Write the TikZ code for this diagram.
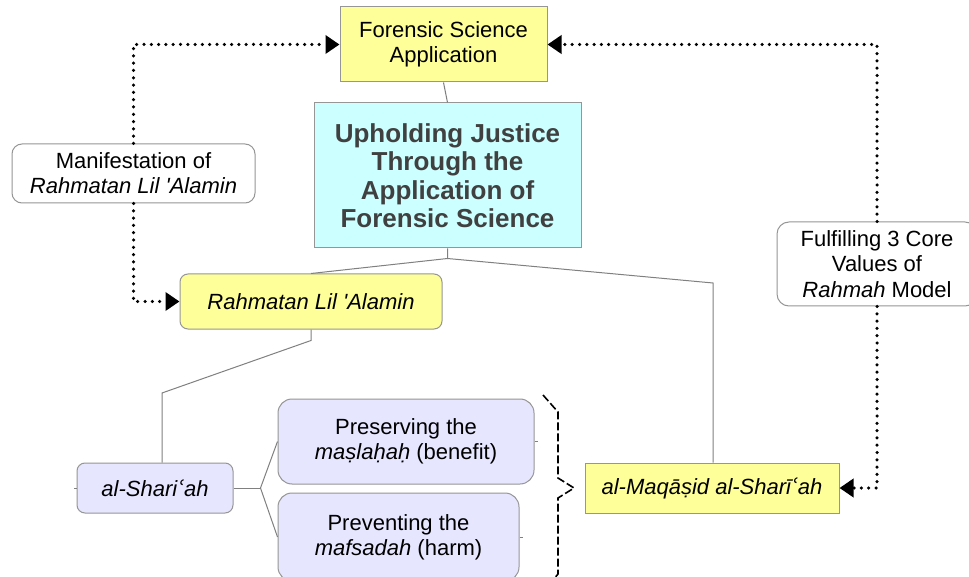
\documentclass[tikz,border=0pt]{standalone}
\usepackage{fontspec}
\setmainfont{Liberation Sans}
\newfontfamily\dejavu{DejaVu Sans}
\usetikzlibrary{arrows.meta,positioning}

\definecolor{boxyellow}{RGB}{255,255,153}
\definecolor{boxcyan}{RGB}{204,255,255}
\definecolor{boxlav}{RGB}{230,230,255}
\definecolor{linegray}{RGB}{128,128,128}
\definecolor{edgegray}{RGB}{150,150,150}
\definecolor{titlegray}{RGB}{64,64,64}
\newcommand{\ayn}{{\dejavu\itshape ʿ}}

\begin{document}
\begin{tikzpicture}[x=0.5pt,y=-0.5pt,
    box/.style={draw=edgegray,line width=0.5pt,align=center,inner sep=2pt,
      font=\fontsize{11}{12.6}\selectfont},
    yellowbox/.style={box,fill=boxyellow},
    titlebox/.style={box,fill=boxcyan,text=titlegray,
      font=\fontsize{13}{14.25}\selectfont\bfseries},
    notebox/.style={box,fill=white,rounded corners=5pt},
    lavbox/.style={box,fill=boxlav,rounded corners=4pt},
    link/.style={draw=linegray,line width=0.5pt},
    dotarrow/.style={line width=1.75pt,line cap=round,dash pattern=on 0pt off 3.65pt,
      -{Triangle[length=7pt,width=9pt]}},
    bracedash/.style={line width=0.8pt,dash pattern=on 4pt off 1.5pt},
  ]
  \path[use as bounding box,fill=white] (0,0) rectangle (969,577);

  % main boxes
  \node[yellowbox,minimum width=103.5pt,minimum height=37.5pt] (fsa) at (443.5,44.5)
    {Forensic Science\\Application};
  \node[titlebox,minimum width=133.5pt,minimum height=72.5pt] (title) at (447.5,175.5)
    {Upholding Justice\\Through the\\Application of\\Forensic Science};
  \node[yellowbox,rounded corners=4pt,minimum width=131pt,minimum height=27.5pt] (rla) at (311,301.5)
    {\textit{Rahmatan Lil \textquotesingle Alamin}};
  \node[yellowbox,minimum width=127pt,minimum height=25pt] (maq) at (712,488)
    {\textit{al-Maqāṣid al-Sharī\ayn ah}};

  % notes on the arrows
  \node[notebox,minimum width=121.5pt,minimum height=29.5pt] (manif) at (133.5,173.5)
    {Manifestation of\\\textit{Rahmatan Lil \textquotesingle Alamin}};
  \node[notebox,rounded corners=6pt,minimum width=100pt,minimum height=42pt] (fulfil) at (877,264)
    {Fulfilling 3 Core\\Values of\\\textit{Rahmah} Model};

  % shari'ah branch
  \node[lavbox,minimum width=78pt,minimum height=25pt] (shar) at (155,488)
    {\textit{al-Shari\ayn ah}};
  \node[lavbox,rounded corners=7pt,minimum width=128pt,minimum height=42.5pt] (pres) at (406,441.5)
    {Preserving the\\\textit{maṣlaḥaḥ} (benefit)};
  \node[lavbox,rounded corners=7pt,minimum width=120.5pt,minimum height=44pt,
    below=4pt of pres.south west,anchor=north west] (prev)
    {Preventing the\\\textit{mafsadah} (harm)};

  % tree lines
  \coordinate (mj) at (713,283);
  \coordinate (sj) at (162,393);
  \draw[link] (fsa.south) -- (title.north);
  \draw[link] (title.south) -- ++(0,10) coordinate (tj) -- (rla.north);
  \draw[link] (tj) -- (mj) -- (mj |- maq.north);
  \draw[link] (rla.south) -- ++(0,11) -- (sj) -- (sj |- shar.north);
  \draw[link] (shar.east) -- ++(27,0) coordinate (fork);
  \draw[link] (pres.west) -- (fork) -- (prev.west);
  \draw[link] (shar.west) -- ++(-3,0);
  \draw[link] (pres.east) -- ++(3,0);
  \draw[link] (prev.east) -- ++(3,0);

  % dotted arrows
  \draw[dotarrow] (manif.north) |- (fsa.west);
  \draw[dotarrow] (manif.south) |- (rla.west);
  \draw[dotarrow] (fulfil.north) |- (fsa.east);
  \draw[dotarrow] (fulfil.south) |- (maq.east);

  % brace
  \draw[bracedash] (543,395) -- (558,412) -- (558,478) -- (574,488)
    -- (558,498) -- (558,574) -- (543,592);
\end{tikzpicture}
\end{document}
